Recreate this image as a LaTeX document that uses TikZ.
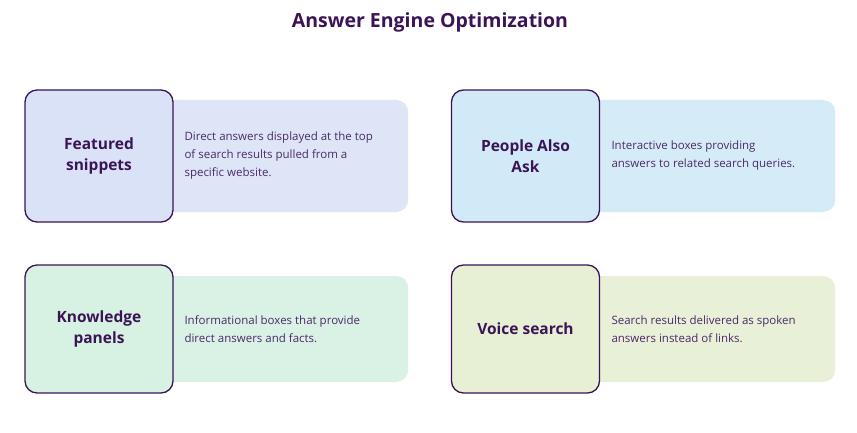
\documentclass[tikz,border=0pt]{standalone}
\usepackage{fontspec}
\setmainfont{Open Sans}
\definecolor{ink}{HTML}{3B1456}
\definecolor{txt}{HTML}{4A2A66}
\begin{document}
\begin{tikzpicture}[x=1pt,y=-1pt,
  sq/.style={draw=ink,line width=1.3pt,rounded corners=12pt,minimum width=148pt,minimum height=132pt,align=center,font=\bfseries\fontsize{15.5}{21}\selectfont,text=ink},
  rc/.style={rounded corners=12pt,minimum width=258pt,minimum height=112pt,anchor=west},
  desc/.style={anchor=west,align=left,font=\fontsize{11.5}{18}\selectfont,text=txt}]
\useasboundingbox (0,0) rectangle (857,433);
\fill[white] (0,0) rectangle (857,433);
\node[font=\bfseries\fontsize{19.5}{22}\selectfont,text=ink] (title) at (430,22) {Answer Engine Optimization};
% row 1 left
\node[rc,fill={rgb,255:red,222;green,229;blue,247}] (r1) at (150,156) {};
\node[sq,fill={rgb,255:red,218;green,226;blue,247}] (s1) at (99,156) {Featured\\snippets};
\node[desc] (d1) at (181,156) {Direct answers displayed at the top\\of search results pulled from a\\specific website.};
% row 1 right
\node[rc,fill={rgb,255:red,213;green,236;blue,248}] (r2) at (577,156) {};
\node[sq,fill={rgb,255:red,210;green,234;blue,248}] (s2) at (525.5,156) {People Also\\Ask};
\node[desc] (d2) at (608,156) {Interactive boxes providing\\answers to related search queries.};
% row 2 left
\node[rc,fill={rgb,255:red,218;green,242;blue,229},minimum height=106pt] (r3) at (150,329) {};
\node[sq,fill={rgb,255:red,215;green,241;blue,227},minimum height=128pt] (s3) at (99,329) {Knowledge\\panels};
\node[desc] (d3) at (181,329) {Informational boxes that provide\\direct answers and facts.};
% row 2 right
\node[rc,fill={rgb,255:red,233;green,240;blue,216},minimum height=106pt] (r4) at (577,329) {};
\node[sq,fill={rgb,255:red,231;green,239;blue,213},minimum height=128pt] (s4) at (525.5,329) {Voice search};
\node[desc] (d4) at (608,329) {Search results delivered as spoken\\answers instead of links.};
\end{tikzpicture}
\end{document}
